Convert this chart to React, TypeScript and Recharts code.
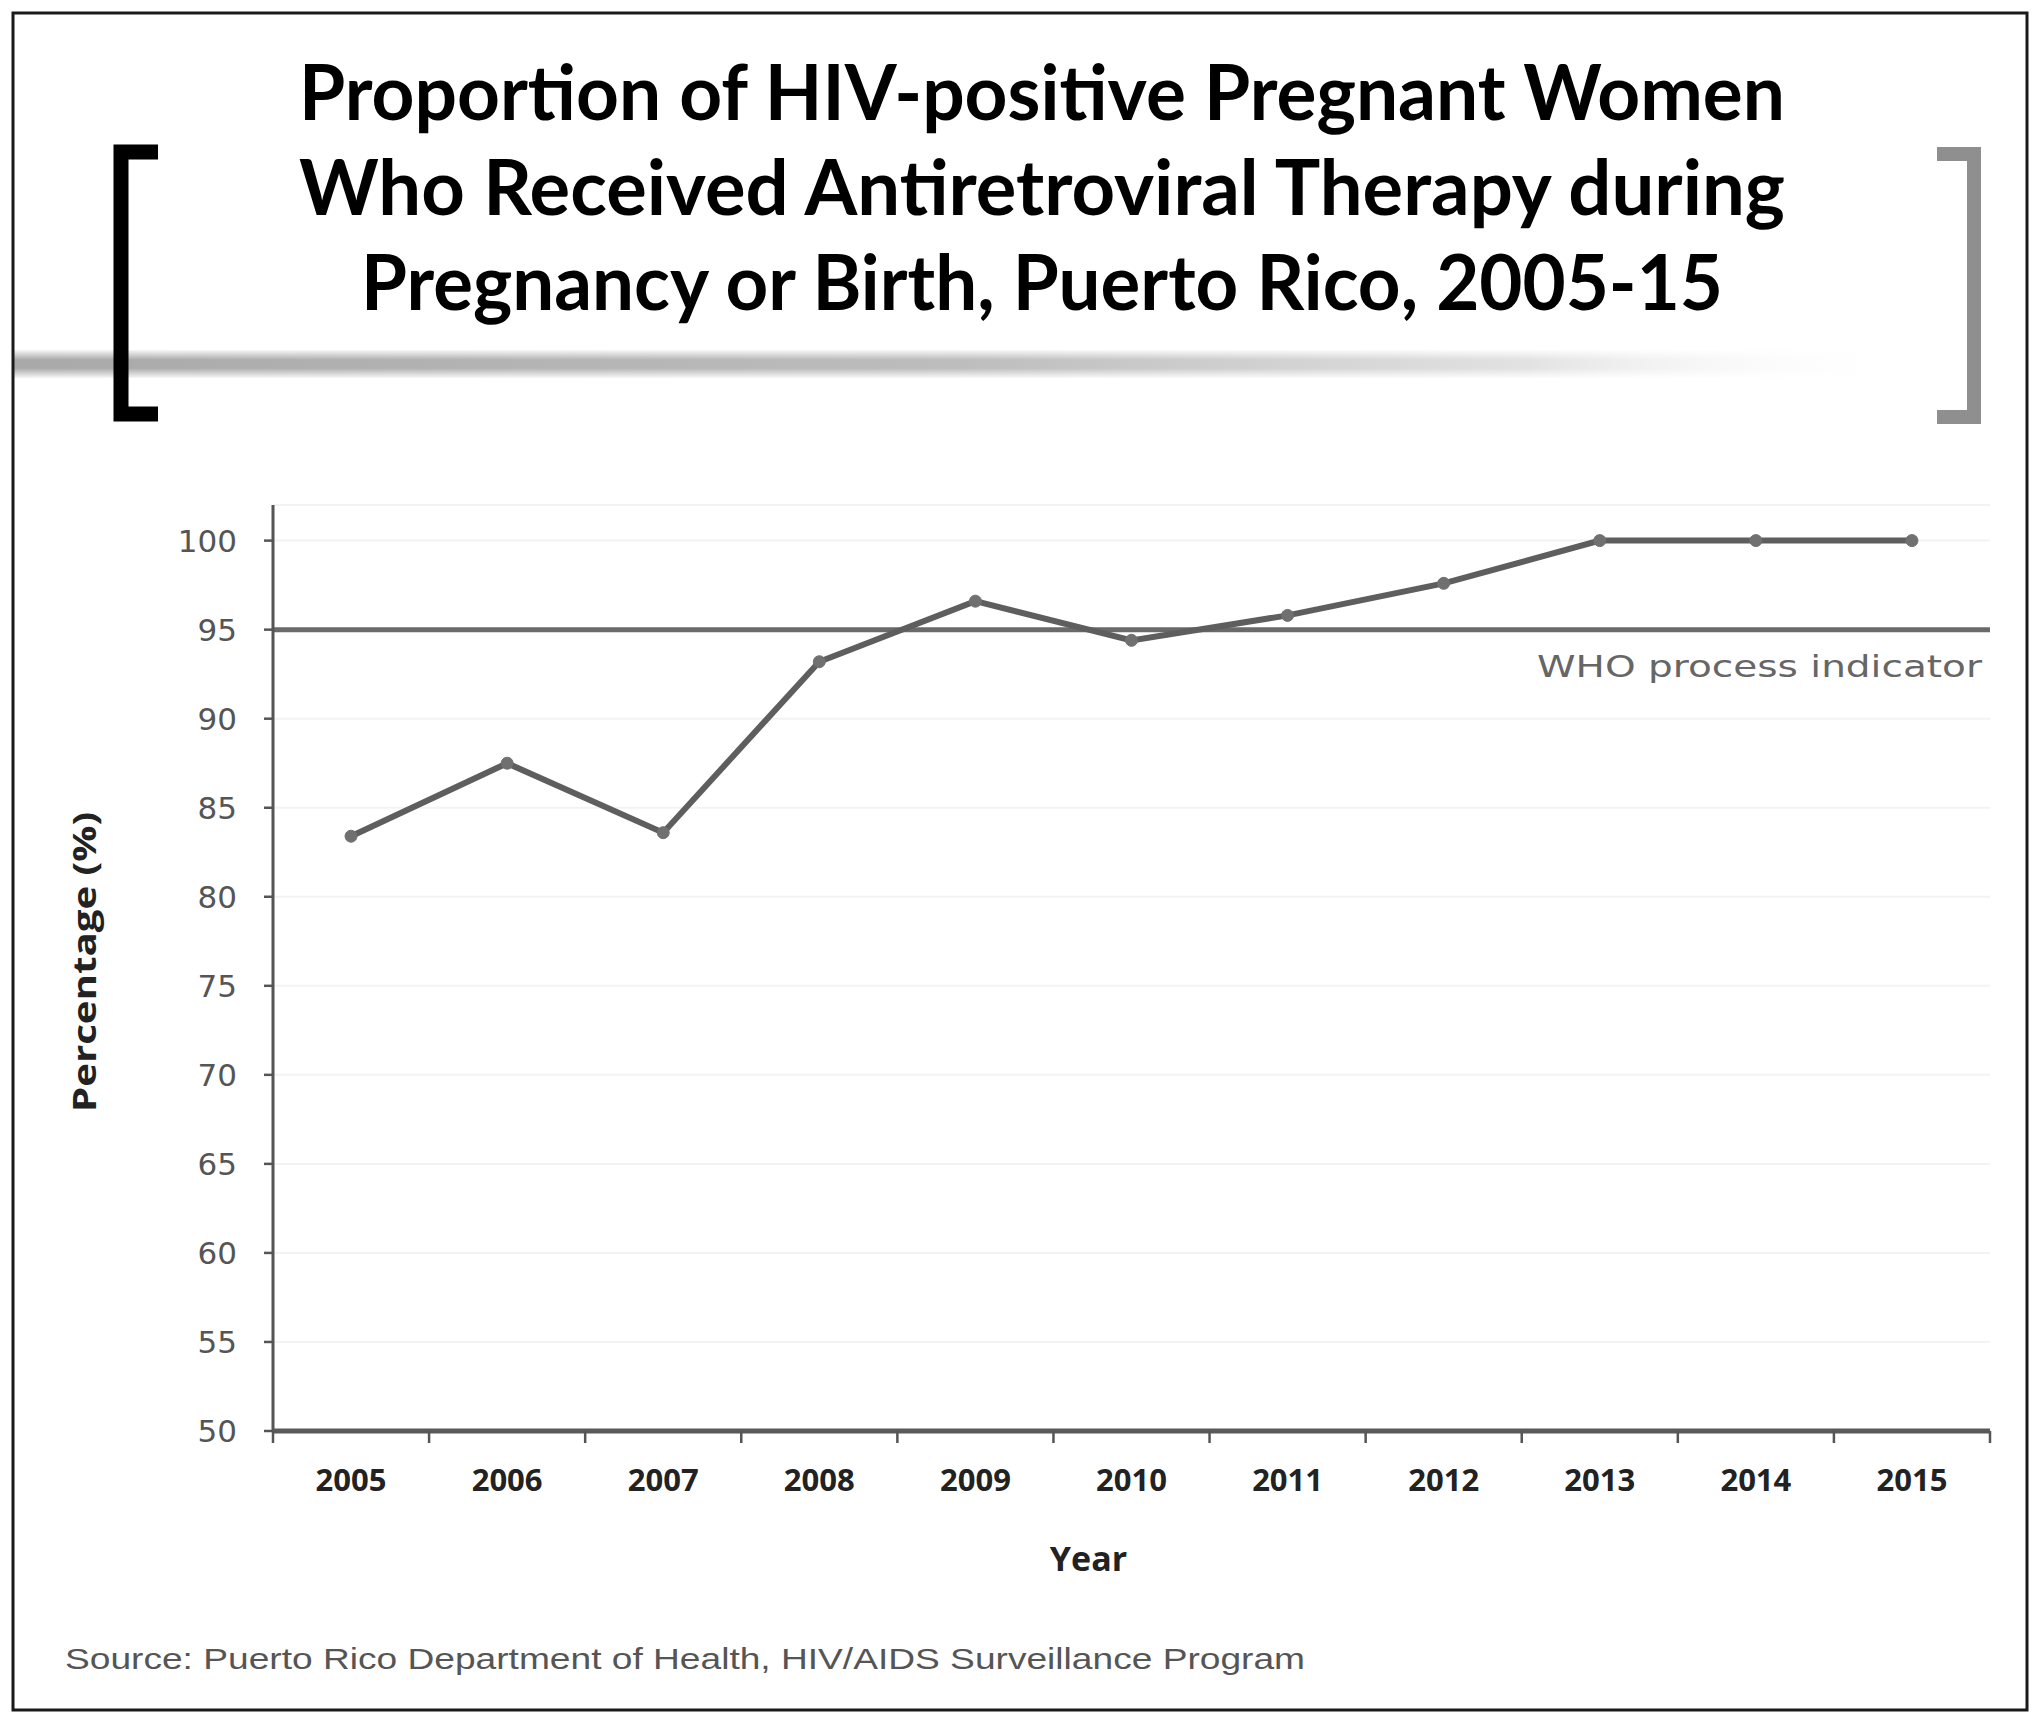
import React from "react";
import {
  LineChart,
  Line,
  XAxis,
  YAxis,
  CartesianGrid,
  ReferenceLine,
} from "recharts";

const years = [2005, 2006, 2007, 2008, 2009, 2010, 2011, 2012, 2013, 2014, 2015];
const percentages = [83.4, 87.5, 83.6, 93.2, 96.6, 94.4, 95.8, 97.6, 100, 100, 100];
const yTicks = [50, 55, 60, 65, 70, 75, 80, 85, 90, 95, 100];
const whoTarget = 95;
const whoLabel = "WHO process indicator";

const titleLines = [
  "Proportion of HIV-positive Pregnant Women",
  "Who Received Antiretroviral Therapy during",
  "Pregnancy or Birth, Puerto Rico, 2005-15",
];
const sourceText = "Source: Puerto Rico Department of Health, HIV/AIDS Surveillance Program";

const chartData = years.map((year, i) => ({ year, pct: percentages[i] }));

// tick marks sit between the years, labels sit on the years
const boundaries = [...years.map((y) => y - 0.5), years[years.length - 1] + 0.5];
const xTicks = [...boundaries, ...years].sort((a, b) => a - b);

const W = 2040;
const H = 1722;

function YearTick(props: any) {
  const { x, y, payload } = props;
  const v = payload.value;
  if (!Number.isInteger(v)) {
    return <line x1={x} y1={y} x2={x} y2={y + 12} stroke="#555" strokeWidth={2.5} />;
  }
  return (
    <text
      x={x}
      y={y + 60}
      textAnchor="middle"
      fontFamily="'Open Sans', sans-serif"
      fontWeight={700}
      fontSize={31}
      fill="#222"
    >
      {v}
    </text>
  );
}

function WhoLabel(props: any) {
  const { viewBox } = props;
  const right = viewBox.x + viewBox.width;
  return (
    <text
      x={right - 8}
      y={viewBox.y + 47}
      textAnchor="end"
      fontFamily="'DejaVu Sans', sans-serif"
      fontSize={30}
      fill="#666"
      textLength={445}
      lengthAdjust="spacingAndGlyphs"
    >
      {whoLabel}
    </text>
  );
}

function Decorations() {
  return (
    <svg
      width={W}
      height={H}
      style={{ position: "absolute", left: 0, top: 0, pointerEvents: "none" }}
    >
      <defs>
        <linearGradient id="band" x1="0" y1="0" x2="1" y2="0">
          <stop offset="0" stopColor="#a9a9a9" />
          <stop offset="0.5" stopColor="#bdbdbd" />
          <stop offset="0.8" stopColor="#e2e2e2" />
          <stop offset="1" stopColor="#ffffff" stopOpacity={0} />
        </linearGradient>
        <linearGradient id="bandV" x1="0" y1="0" x2="0" y2="1">
          <stop offset="0" stopColor="#fff" stopOpacity={0.9} />
          <stop offset="0.35" stopColor="#fff" stopOpacity={0} />
          <stop offset="0.65" stopColor="#fff" stopOpacity={0} />
          <stop offset="1" stopColor="#fff" stopOpacity={0.9} />
        </linearGradient>
      </defs>
      <rect x={14} y={350} width={1890} height={28} fill="url(#band)" />
      <rect x={14} y={350} width={1890} height={28} fill="url(#bandV)" />

      {/* outer frame */}
      <rect x={13} y={13} width={2014} height={1697} fill="none" stroke="#1a1a1a" strokeWidth={3} />

      {/* brackets */}
      <path d="M158 152 H121 V414 H158" fill="none" stroke="#000" strokeWidth={15} />
      <path d="M1937 154 H1974 V417 H1937" fill="none" stroke="#8f8f8f" strokeWidth={14} />

      {titleLines.map((t, i) => (
        <text
          key={i}
          x={1042}
          y={120 + i * 95}
          textAnchor="middle"
          fontFamily="Lato, sans-serif"
          fontWeight={700}
          fontSize={76}
          fill="#000"
          textLength={i === 2 ? 1362 : 1486}
          lengthAdjust="spacingAndGlyphs"
        >
          {t}
        </text>
      ))}

      <text
        x={65}
        y={1669}
        fontFamily="'Liberation Sans', Arial, sans-serif"
        fontSize={30}
        fill="#555"
        textLength={1240}
        lengthAdjust="spacingAndGlyphs"
      >
        {sourceText}
      </text>
    </svg>
  );
}

export default function App() {
  return (
    <div
      style={{
        position: "absolute",
        left: 0,
        top: 0,
        width: W,
        height: H,
        background: "#fff",
      }}
    >
      <LineChart
        width={W}
        height={H}
        data={chartData}
        margin={{ top: 505, right: 50, bottom: 161, left: 173 }}
      >
        <CartesianGrid vertical={false} stroke="#f3f3f3" strokeWidth={2} />
        <XAxis
          dataKey="year"
          type="number"
          domain={[2004.5, 2015.5]}
          ticks={xTicks}
          interval={0}
          height={130}
          tickLine={false}
          tickSize={0}
          tickMargin={0}
          axisLine={{ stroke: "#5a5a5a", strokeWidth: 5 }}
          tick={<YearTick />}
          label={{
            value: "Year",
            content: (p: any) => (
              <text
                x={p.viewBox.x + p.viewBox.width / 2 - 43}
                y={1571}
                textAnchor="middle"
                fontFamily="'Open Sans', sans-serif"
                fontWeight={700}
                fontSize={34}
                fill="#222"
              >
                Year
              </text>
            ),
          }}
        />
        <YAxis
          domain={[50, 102]}
          ticks={yTicks}
          interval={0}
          width={100}
          tickSize={9}
          tickMargin={27}
          tickLine={{ stroke: "#555", strokeWidth: 2.5 }}
          axisLine={{ stroke: "#555", strokeWidth: 3 }}
          tick={{
            fontFamily: "'DejaVu Sans', sans-serif",
            fontSize: 31,
            fill: "#555",
          }}
          label={{
            value: "Percentage (%)",
            content: (p: any) => {
              const cy = p.viewBox.y + p.viewBox.height / 2 - 6;
              return (
                <text
                  x={96}
                  y={cy}
                  transform={`rotate(-90 96 ${cy})`}
                  textAnchor="middle"
                  fontFamily="'Open Sans', sans-serif"
                  fontWeight={700}
                  fontSize={33}
                  fill="#222"
                  textLength={300}
                  lengthAdjust="spacingAndGlyphs"
                >
                  Percentage (%)
                </text>
              );
            },
          }}
        />
        <ReferenceLine
          y={whoTarget}
          stroke="#6a6a6a"
          strokeWidth={5}
          label={<WhoLabel />}
        />
        <Line
          type="linear"
          dataKey="pct"
          stroke="#5e5e5e"
          strokeWidth={6}
          dot={{ r: 6, fill: "#707070", stroke: "#707070", strokeWidth: 1 }}
          isAnimationActive={false}
        />
      </LineChart>
      <Decorations />
    </div>
  );
}
